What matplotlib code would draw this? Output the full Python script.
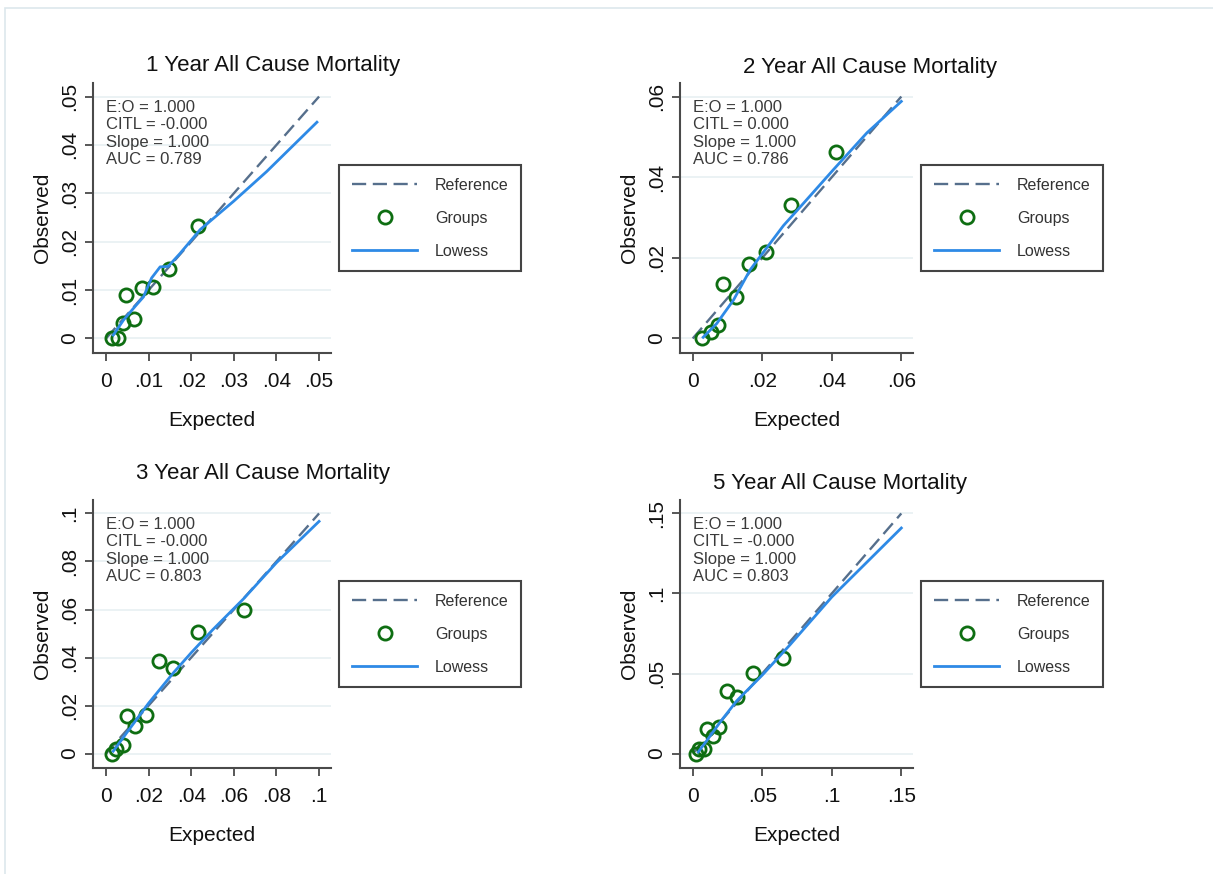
import matplotlib
matplotlib.use("Agg")
import matplotlib.pyplot as plt
from matplotlib.patches import Rectangle
from matplotlib.ticker import FuncFormatter

plt.rcParams["font.family"] = ["Liberation Sans", "DejaVu Sans"]

W, H = 1213, 874

titles = ["1 Year All Cause Mortality", "2 Year All Cause Mortality",
          "3 Year All Cause Mortality", "5 Year All Cause Mortality"]

stats = [
    ["E:O = 1.000", "CITL = -0.000", "Slope = 1.000", "AUC = 0.789"],
    ["E:O = 1.000", "CITL = 0.000", "Slope = 1.000", "AUC = 0.786"],
    ["E:O = 1.000", "CITL = -0.000", "Slope = 1.000", "AUC = 0.803"],
    ["E:O = 1.000", "CITL = -0.000", "Slope = 1.000", "AUC = 0.803"],
]

ticks = [
    [0, 0.01, 0.02, 0.03, 0.04, 0.05],
    [0, 0.02, 0.04, 0.06],
    [0, 0.02, 0.04, 0.06, 0.08, 0.1],
    [0, 0.05, 0.1, 0.15],
]

# grouped expected vs observed risk
grp1_exp = [0.0013, 0.0027, 0.0041, 0.0047, 0.0066, 0.0085, 0.0111, 0.0149, 0.0215]
grp1_obs = [0.0000, 0.0000, 0.0033, 0.0089, 0.0041, 0.0104, 0.0107, 0.0144, 0.0232]
grp2_exp = [0.0028, 0.0053, 0.0074, 0.0088, 0.0124, 0.0162, 0.0211, 0.0283, 0.0412]
grp2_obs = [0.0000, 0.0017, 0.0033, 0.0134, 0.0102, 0.0185, 0.0215, 0.0330, 0.0462]
grp3_exp = [0.0027, 0.0047, 0.0081, 0.0097, 0.0136, 0.0188, 0.0247, 0.0315, 0.0432, 0.0646]
grp3_obs = [0.0000, 0.0021, 0.0035, 0.0155, 0.0113, 0.0162, 0.0387, 0.0358, 0.0507, 0.0600]
grp5_exp = [0.0024, 0.0043, 0.0084, 0.0101, 0.0144, 0.0192, 0.0247, 0.0317, 0.0432, 0.0646]
grp5_obs = [0.0000, 0.0031, 0.0031, 0.0153, 0.0112, 0.0166, 0.0389, 0.0354, 0.0505, 0.0599]

# lowess smoothed calibration curves
low1_x = [0.0017, 0.0041, 0.0068, 0.0088, 0.0107, 0.0127, 0.0146, 0.0174, 0.0221, 0.0300, 0.0377, 0.0495]
low1_y = [0.0007, 0.0038, 0.0066, 0.0086, 0.0125, 0.0148, 0.0149, 0.0176, 0.0225, 0.0284, 0.0345, 0.0447]
low2_x = [0.0030, 0.0069, 0.0117, 0.0165, 0.0213, 0.0261, 0.0309, 0.0405, 0.0501, 0.0600]
low2_y = [0.0003, 0.0037, 0.0095, 0.0170, 0.0225, 0.0280, 0.0326, 0.0419, 0.0510, 0.0588]
low3_x = [0.0034, 0.0100, 0.0200, 0.0315, 0.0400, 0.0500, 0.0646, 0.0800, 0.1000]
low3_y = [0.0010, 0.0090, 0.0210, 0.0335, 0.0420, 0.0515, 0.0645, 0.0795, 0.0967]
low5_x = [0.0040, 0.0100, 0.0200, 0.0317, 0.0500, 0.0700, 0.1000, 0.1500]
low5_y = [0.0010, 0.0080, 0.0200, 0.0330, 0.0490, 0.0680, 0.0978, 0.1409]

groups = [(grp1_exp, grp1_obs), (grp2_exp, grp2_obs), (grp3_exp, grp3_obs), (grp5_exp, grp5_obs)]
lowess = [(low1_x, low1_y), (low2_x, low2_y), (low3_x, low3_y), (low5_x, low5_y)]

# layout in pixels: axes (left, top, right, bottom), legend corner, title centre
axes_px = [(93, 83, 331, 353), (680, 83, 913, 353), (93, 500, 331, 768), (680, 500, 913, 768)]
legend_px = [(339, 165), (921, 165), (339, 581), (921, 581)]
title_px = [(273, 65), (870, 68), (263, 473), (840, 483)]

ref_col = "#566f8c"
low_col = "#2e8ae6"
grp_col = "#0e6e12"
spine_col = "#4a4a4a"
grid_col = "#e8f0f2"


def stata_fmt(v, pos=None):
    if abs(v) < 1e-12:
        return "0"
    s = ("%.2f" % v).rstrip("0")
    return s[1:] if s.startswith("0") else s


fig = plt.figure(figsize=(W / 100, H / 100), dpi=100)
fig.patches.append(Rectangle((5 / W, -0.1), 1.2, 1 - 8 / H + 0.1, transform=fig.transFigure,
                             fill=False, edgecolor="#dde7ec", linewidth=1.2))

for i in range(4):
    l, t, r, b = axes_px[i]
    ax = fig.add_axes([l / W, 1 - b / H, (r - l) / W, (b - t) / H])
    tk = ticks[i]
    m = tk[-1]

    ax.plot([0, m], [0, m], color=ref_col, lw=1.7, dashes=(6, 2.8), label="Reference", zorder=2)
    ax.plot(groups[i][0], groups[i][1], "o", ms=9.5, mfc="none", mec=grp_col, mew=2.0,
            label="Groups", zorder=3)
    ax.plot(lowess[i][0], lowess[i][1], color=low_col, lw=2.0, label="Lowess", zorder=4)

    ax.set_xlim(-0.061 * m, 1.056 * m)
    ax.set_ylim(-0.06 * m, 1.056 * m)
    ax.set_xticks(tk)
    ax.set_yticks(tk)
    ax.xaxis.set_major_formatter(FuncFormatter(stata_fmt))
    ax.yaxis.set_major_formatter(FuncFormatter(stata_fmt))
    ax.tick_params(axis="both", direction="out", length=6, width=1.3, color=spine_col,
                   labelsize=15, labelcolor="#111111")
    ax.tick_params(axis="x", pad=8)
    ax.tick_params(axis="y", pad=4)
    for lab in ax.get_yticklabels():
        lab.set_rotation(90)
        lab.set_va("center")
    ax.grid(axis="y", color=grid_col, lw=1.2)
    ax.set_axisbelow(True)
    for s in ["top", "right"]:
        ax.spines[s].set_visible(False)
    for s in ["left", "bottom"]:
        ax.spines[s].set_color(spine_col)
        ax.spines[s].set_linewidth(1.5)

    ax.set_xlabel("Expected", fontsize=15, labelpad=14, color="#111111")
    ax.set_ylabel("Observed", fontsize=15, labelpad=6, color="#111111")

    ax.annotate("\n".join(stats[i]), xy=(0, m), xytext=(0, -2.5), textcoords="offset points",
                fontsize=12, color="#3a3a3a", va="top", ha="left", linespacing=1.2)

    lx, ly = legend_px[i]
    leg = ax.legend(loc="upper left", bbox_to_anchor=(lx / W, 1 - ly / H),
                    bbox_transform=fig.transFigure, borderaxespad=0, fontsize=11.5,
                    handlelength=4.1, handletextpad=1.1, labelspacing=1.12,
                    borderpad=0.8, fancybox=False, framealpha=1, labelcolor="#333333")
    leg.get_frame().set_edgecolor("#444444")
    leg.get_frame().set_linewidth(1.5)

    tx, ty = title_px[i]
    fig.text(tx / W, 1 - ty / H, titles[i], fontsize=16, ha="center", va="center",
             color="#111111")

fig.savefig("out.png", dpi=100)
